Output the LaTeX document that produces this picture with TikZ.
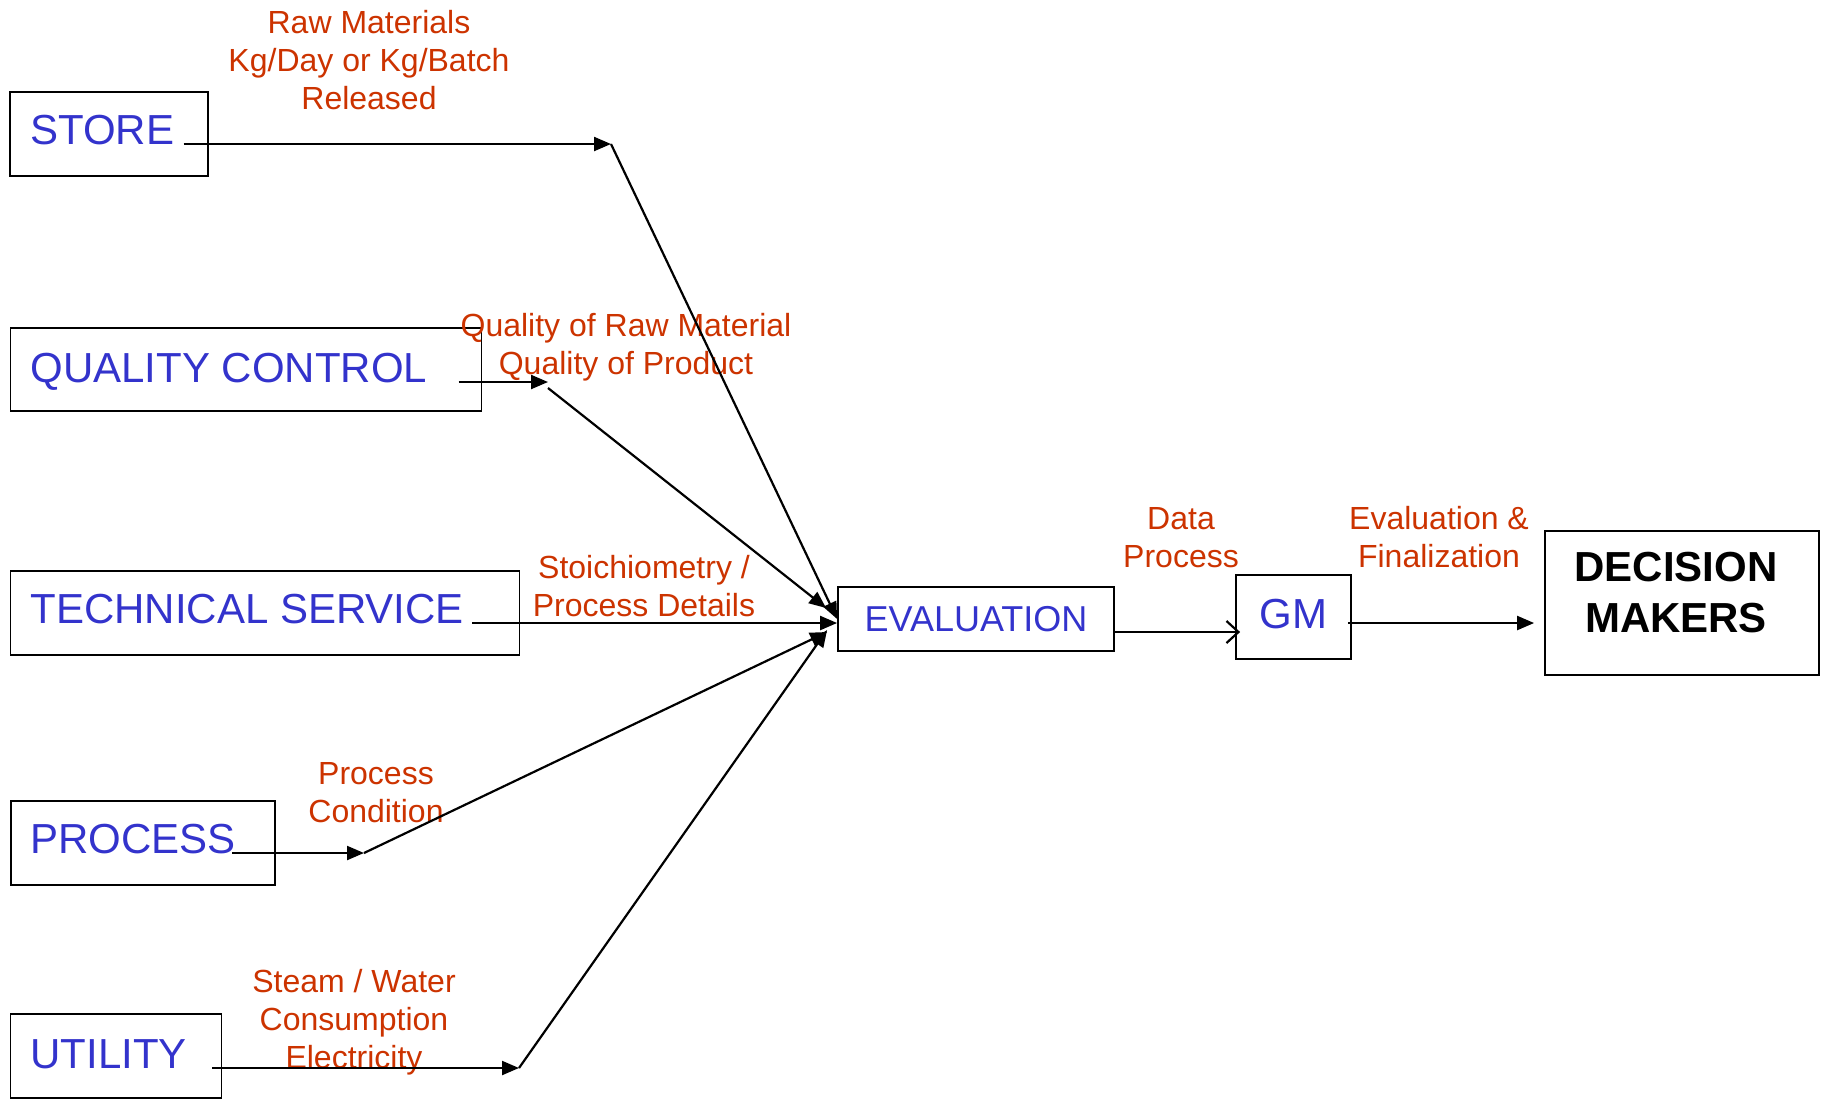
\documentclass[tikz,border=0pt]{standalone}
\usepackage{fontspec}
\setmainfont{Liberation Sans}
\usepackage{tikz}
\usetikzlibrary{arrows.meta}
\definecolor{unitblue}{RGB}{51,51,204}
\definecolor{notered}{RGB}{204,51,0}
\tikzset{>/.tip={Triangle[length=8.5pt,width=7pt]}}
\tikzset{v/.tip={Straight Barb[length=6pt,width=11pt,line width=1.1pt]}}

\begin{document}
\begin{tikzpicture}[x=0.5pt,y=-0.5pt,
    unit/.style={draw,line width=0.9pt,inner sep=0pt},
    unitname/.style={text=unitblue,font=\fontsize{21}{25}\selectfont,inner sep=0pt,anchor=base west},
    note/.style={text=notered,font=\fontsize{16}{19}\selectfont,align=center,inner sep=0pt},
    flow/.style={line width=1.1pt,->}]
      \useasboundingbox (0,0) rectangle (1825,1100);

      \node[unit,minimum width=99pt,minimum height=42pt](store) at (109,134){};
      \node[unitname](storeT) at (30,144){STORE};
      \node[unit,minimum width=235.5pt,minimum height=41.5pt](qc) at (246,369.5){};
      \node[unitname](qcT) at (30,382){QUALITY CONTROL};
      \node[unit,minimum width=254.5pt,minimum height=42pt](ts) at (265,613){};
      \node[unitname](tsT) at (30,623){TECHNICAL SERVICE};
      \node[unit,minimum width=132pt,minimum height=42pt](proc) at (143,843){};
      \node[unitname](procT) at (30,853){PROCESS};
      \node[unit,minimum width=105.5pt,minimum height=42pt](util) at (116,1056){};
      \node[unitname](utilT) at (30,1068){UTILITY};

      \node[unit,minimum width=138pt,minimum height=32pt,text=unitblue,
        font=\fontsize{18}{22}\selectfont](eval) at (976,619){EVALUATION};
      \node[unit,minimum width=57.5pt,minimum height=42pt,text=unitblue,
        font=\fontsize{21}{25}\selectfont,text depth=3pt](gm) at (1293.5,617){GM};
      \node[unit,minimum width=137pt,minimum height=72pt](dm) at (1682,603){};
      \node[align=center,font=\fontsize{21}{25.5}\selectfont\bfseries,inner sep=0pt](dmT)
        at (1676,593){DECISION\\MAKERS};

      \node[note](rawN) at (369,60){Raw Materials\\Kg/Day or Kg/Batch\\Released};
      \node[note](qcN) at (626,347){Quality of Raw Material\\Quality of Product};
      \node[note](tsN) at (644,586){Stoichiometry /\\Process Details};
      \node[note](procN) at (376,793){Process\\Condition};
      \node[note](utilN) at (354,1022){Steam / Water\\Consumption\\Electricity};
      \node[note](dataN) at (1181,538){Data\\Process};
      \node[note](finN) at (1439,537){Evaluation \&\\Finalization};

      \coordinate(storeBend) at (611,144);
      \coordinate(qcBend) at (548,382);
      \coordinate(procBend) at (364,853);
      \coordinate(utilBend) at (519,1068);

      \draw[flow] (storeT.base east) ++(9,0) -- (storeBend);
      \draw[flow] (storeBend) -- (eval.west);
      \draw[flow] (qcT.base east) ++(31,0) -- (qcBend);
      \draw[flow] ([yshift=-3pt]qcBend) -- ([shift={(-11,-11)}]eval.west);
      \draw[flow] (tsT.base east) ++(8,0) -- (eval.west |- tsT.base east);
      \draw[flow] (procT.base east) ++(-4,0) -- (procBend);
      \draw[flow] (procBend) -- ([shift={(-10,13)}]eval.west);
      \draw[flow] (utilT.base east) ++(25,0) -- (utilBend);
      \draw[flow] (utilBend) -- ([shift={(-10,11)}]eval.west);

      \draw[line width=1.1pt,-v,shorten >=-2.5pt] ([yshift=-6.5pt]eval.east) -- ([yshift=-6.5pt]eval.east -| gm.west);
      \draw[flow] ([shift={(-2pt,-3pt)}]gm.east) -- ([shift={(-5pt,-3pt)}]gm.east -| dm.west);
\end{tikzpicture}
\end{document}
